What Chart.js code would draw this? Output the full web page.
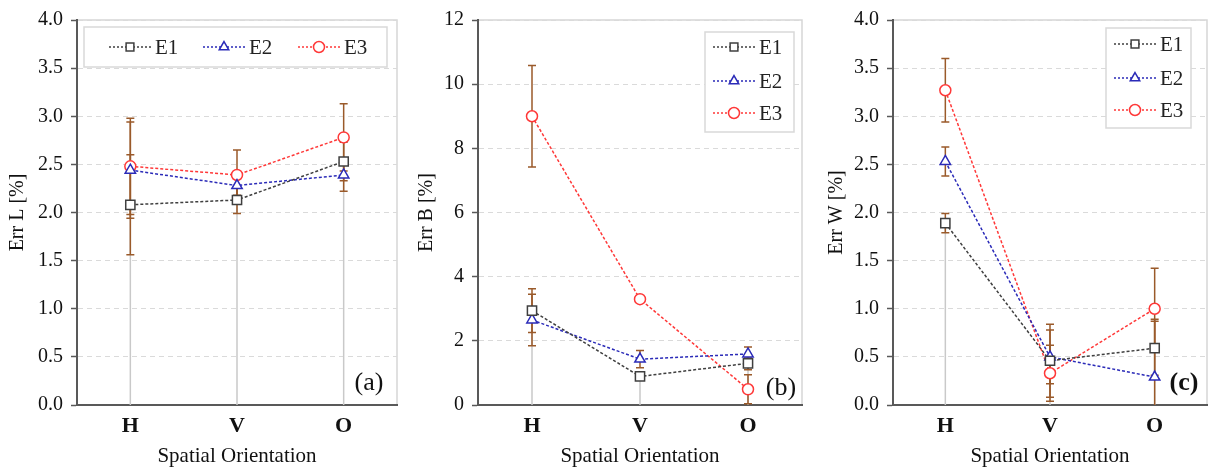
<!DOCTYPE html>
<html>
<head>
<meta charset="utf-8">
<script src="https://cdn.jsdelivr.net/npm/chart.js@4/dist/chart.umd.min.js"></script>
<style>
  body { margin: 0; background: #fff; }
  .panel { position: absolute; top: 0; width: 405px; height: 471px; }
</style>
</head>
<body>
<div class="panel" style="left:0"><canvas id="chartL" width="405" height="471"></canvas></div>
<div class="panel" style="left:405px"><canvas id="chartB" width="405" height="471"></canvas></div>
<div class="panel" style="left:810px"><canvas id="chartW" width="405" height="471"></canvas></div>
<script>
// datos
const orientaciones = ['H', 'V', 'O'];
const series = ['E1', 'E2', 'E3'];

const errL_E1 = [2.08, 2.13, 2.53];
const errL_E2 = [2.44, 2.28, 2.39];
const errL_E3 = [2.48, 2.39, 2.78];
const sdL_E1 = [0.52, 0.14, 0.20];
const sdL_E2 = [0.50, 0.10, 0.17];
const sdL_E3 = [0.50, 0.26, 0.35];

const errB_E1 = [2.94, 0.89, 1.30];
const errB_E2 = [2.65, 1.43, 1.59];
const errB_E3 = [9.00, 3.30, 0.49];
const sdB_E1 = [0.68, 0.10, 0.20];
const sdB_E2 = [0.80, 0.27, 0.22];
const sdB_E3 = [1.58, 0.10, 0.45];

const errW_E1 = [1.89, 0.46, 0.59];
const errW_E2 = [2.53, 0.50, 0.29];
const errW_E3 = [3.27, 0.33, 1.00];
const sdW_E1 = [0.10, 0.38, 0.28];
const sdW_E2 = [0.15, 0.28, 0.60];
const sdW_E3 = [0.33, 0.29, 0.42];

const SERIF = '"Liberation Serif", "Times New Roman", serif';
const colores = ['#3f3f3f', '#2b2bb8', '#ff3838'];
const marcadores = ['rect', 'triangle', 'circle'];
const radios = [6.5, 6, 5.5];

// lineas de caida (serie E1) + barras de error
const barrasError = {
    id: 'barrasError',
    beforeDatasetsDraw(chart, args, opts) {
        const ctx = chart.ctx;
        const y = chart.scales.y;
        const base = chart.getDatasetMeta(0);
        ctx.save();
        ctx.strokeStyle = '#c9c9c9';
        ctx.lineWidth = 1.5;
        base.data.forEach(pt => {
            ctx.beginPath();
            ctx.moveTo(pt.x, y.getPixelForValue(0));
            ctx.lineTo(pt.x, pt.y);
            ctx.stroke();
        });
        ctx.strokeStyle = '#9a5a2a';
        ctx.lineWidth = 1.5;
        chart.data.datasets.forEach((ds, di) => {
            const meta = chart.getDatasetMeta(di);
            ds.data.forEach((v, i) => {
                const e = opts.sd[di][i];
                const px = meta.data[i].x;
                const hi = Math.min(v + e, y.max), lo = Math.max(v - e, y.min);
                const y1 = y.getPixelForValue(hi), y2 = y.getPixelForValue(lo);
                ctx.beginPath();
                ctx.moveTo(px, y1); ctx.lineTo(px, y2);
                ctx.moveTo(px - 4, y1); ctx.lineTo(px + 4, y1);
                if (v - e > y.min) { ctx.moveTo(px - 4, y2); ctx.lineTo(px + 4, y2); }
                ctx.stroke();
            });
        });
        ctx.restore();
    }
};

// marco gris claro del area de trazado
const marco = {
    id: 'marco',
    beforeDraw(chart) {
        const a = chart.chartArea, ctx = chart.ctx;
        ctx.save();
        ctx.strokeStyle = '#d6d6d6';
        ctx.lineWidth = 1.5;
        ctx.strokeRect(a.left, a.top, a.right - a.left, a.bottom - a.top);
        ctx.restore();
    }
};

// leyenda en caja, estilo Excel
const leyenda = {
    id: 'leyenda',
    afterDraw(chart, args, o) {
        const ctx = chart.ctx, a = chart.chartArea;
        const bx = o.fromRight ? a.right - o.dx : a.left + o.dx;
        const by = a.top + o.dy;
        ctx.save();
        ctx.fillStyle = '#fff';
        ctx.fillRect(bx, by, o.w, o.h);
        ctx.strokeStyle = '#d9d9d9';
        ctx.lineWidth = 1.5;
        ctx.strokeRect(bx, by, o.w, o.h);
        chart.data.datasets.forEach((ds, i) => {
            const lx = bx + o.items[i][0], ly = by + o.items[i][1];
            ctx.strokeStyle = ds.borderColor;
            ctx.lineWidth = 1.5;
            ctx.setLineDash([2, 2]);
            ctx.beginPath(); ctx.moveTo(lx, ly); ctx.lineTo(lx + 44, ly); ctx.stroke();
            ctx.setLineDash([]);
            ctx.fillStyle = '#fff';
            ctx.strokeStyle = ds.pointBorderColor;
            Chart.helpers.drawPoint(ctx, { pointStyle: ds.pointStyle, radius: 5.5, borderWidth: 1.5, rotation: 0 }, lx + 21, ly);
            ctx.fillStyle = '#222';
            ctx.font = '21px ' + SERIF;
            ctx.textBaseline = 'middle';
            ctx.fillText(ds.label, lx + 46, ly + 1);
        });
        ctx.restore();
    }
};

// etiqueta (a), (b), (c)
const etiqueta = {
    id: 'etiqueta',
    afterDraw(chart, args, o) {
        const ctx = chart.ctx, a = chart.chartArea;
        ctx.save();
        ctx.fillStyle = '#111';
        ctx.font = (o.bold ? 'bold ' : '') + '26px ' + SERIF;
        ctx.textAlign = 'center';
        ctx.textBaseline = 'middle';
        ctx.fillText(o.text, a.right - o.dx, a.bottom - o.dy);
        ctx.restore();
    }
};

function crearGrafico(id, valores, desvios, cfg) {
    return new Chart(document.getElementById(id), {
        type: 'line',
        data: {
            labels: orientaciones,
            datasets: series.map((s, i) => ({
                label: s,
                data: valores[i],
                borderColor: colores[i],
                borderWidth: 1.5,
                borderDash: [3, 2],
                pointStyle: marcadores[i],
                pointRadius: radios[i],
                pointBorderWidth: 1.5,
                pointBackgroundColor: '#fff',
                pointBorderColor: colores[i],
                tension: 0
            }))
        },
        options: {
            responsive: false,
            animation: false,
            devicePixelRatio: 1,
            layout: { padding: { top: 15, right: cfg.padRight, bottom: 0, left: 0 } },
            plugins: {
                legend: { display: false },
                tooltip: { enabled: false },
                barrasError: { sd: desvios },
                leyenda: cfg.leyenda,
                etiqueta: cfg.etiqueta
            },
            scales: {
                x: {
                    offset: true,
                    grid: { display: false, drawTicks: false },
                    border: { color: '#595959', width: 2 },
                    ticks: { color: '#111', padding: 8, font: { family: SERIF, size: 22, weight: 'bold' } },
                    title: { display: true, text: 'Spatial Orientation', color: '#111', padding: { top: 0, bottom: 2 }, font: { family: SERIF, size: 21 } },
                    afterFit(scale) { scale.height = 66; }
                },
                y: {
                    min: 0,
                    max: cfg.max,
                    grid: { color: '#dadada', lineWidth: 1, tickLength: 6, tickColor: '#595959', tickWidth: 1.5 },
                    border: { color: '#595959', width: 2, dash: [5, 4] },
                    ticks: {
                        stepSize: cfg.step,
                        color: '#111',
                        padding: 8,
                        font: { family: SERIF, size: 20 },
                        callback: v => cfg.dec ? v.toFixed(1) : v
                    },
                    title: { display: true, text: cfg.titulo, color: '#111', padding: { top: cfg.tituloPad, bottom: 0 }, font: { family: SERIF, size: 20 } },
                    afterFit(scale) { scale.width = cfg.ancho; }
                }
            }
        },
        plugins: [marco, barrasError, leyenda, etiqueta]
    });
}

crearGrafico('chartL', [errL_E1, errL_E2, errL_E3], [sdL_E1, sdL_E2, sdL_E3], {
    max: 4, step: 0.5, dec: true, titulo: 'Err L [%]', tituloPad: 6, ancho: 77, padRight: 7,
    leyenda: { fromRight: false, dx: 7, dy: 7, w: 303, h: 40, items: [[25, 20], [119, 20], [214, 20]] },
    etiqueta: { text: '(a)', dx: 28, dy: 22, bold: false }
});

crearGrafico('chartB', [errB_E1, errB_E2, errB_E3], [sdB_E1, sdB_E2, sdB_E3], {
    max: 12, step: 2, dec: false, titulo: 'Err B [%]', tituloPad: 10, ancho: 73, padRight: 6,
    leyenda: { fromRight: true, dx: 97, dy: 12, w: 89, h: 100, items: [[8, 15], [8, 49], [8, 81]] },
    etiqueta: { text: '(b)', dx: 21, dy: 17, bold: false }
});

crearGrafico('chartW', [errW_E1, errW_E2, errW_E3], [sdW_E1, sdW_E2, sdW_E3], {
    max: 4, step: 0.5, dec: true, titulo: 'Err W [%]', tituloPad: 15, ancho: 83, padRight: 0,
    leyenda: { fromRight: true, dx: 101, dy: 8, w: 85, h: 100, items: [[8, 16], [8, 50], [8, 82]] },
    etiqueta: { text: '(c)', dx: 23, dy: 22, bold: true }
});
</script>
</body>
</html>
